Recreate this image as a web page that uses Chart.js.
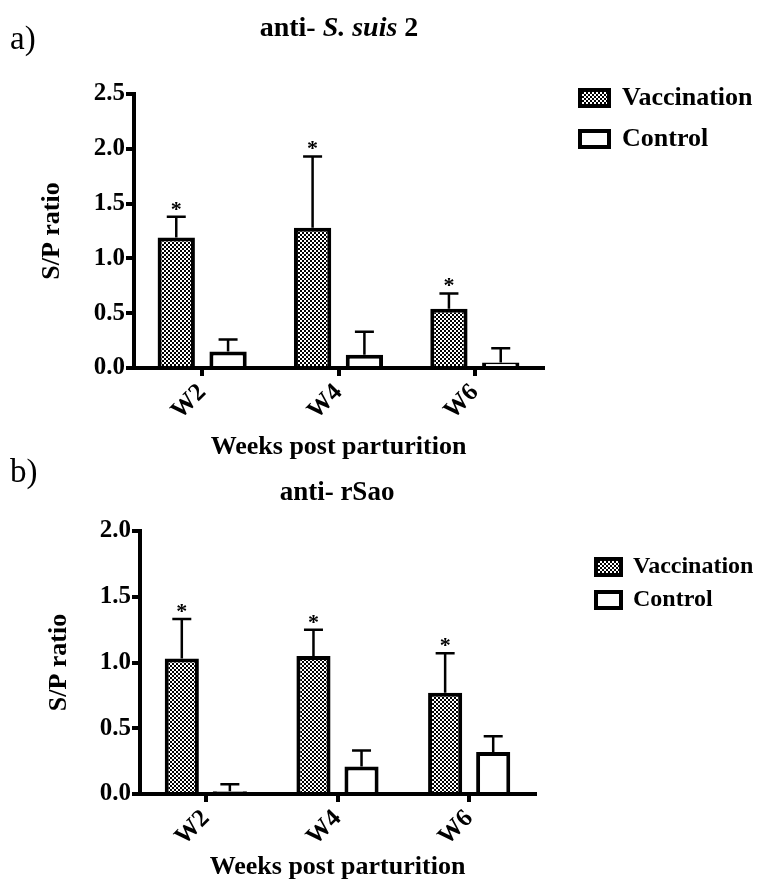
<!DOCTYPE html>
<html>
<head>
<meta charset="utf-8">
<script src="https://cdn.jsdelivr.net/npm/chart.js@4.4.1/dist/chart.umd.min.js"></script>
<style>
body{margin:0;background:#fff;width:769px;height:883px;position:relative;overflow:hidden;font-family:'Liberation Serif',serif;color:#000;}
.caja{position:absolute;left:0;width:769px;}
#cajaA{top:0;height:465px;}
#cajaB{top:465px;height:418px;}
.letra{position:absolute;font-size:33px;line-height:1;}
.titulo{position:absolute;font-weight:bold;line-height:1;transform:translate(-50%,-50%);white-space:nowrap;}
</style>
</head>
<body>
<div class="caja" id="cajaA"><canvas id="graficoA" width="769" height="465"></canvas></div>
<div class="caja" id="cajaB"><canvas id="graficoB" width="769" height="418"></canvas></div>
<div class="letra" style="left:10px;top:22px">a)</div>
<div class="titulo" style="left:339px;top:27px;font-size:28px">anti- <i>S. suis</i> 2</div>
<div class="letra" style="left:10px;top:455px">b)</div>
<div class="titulo" style="left:337px;top:491px;font-size:27px">anti- rSao</div>
<script>
// datos
const semanas = ['W2', 'W4', 'W6'];
const series = ['Vaccination', 'Control'];

// a) anti- S. suis 2
const vacunaA = [1.19, 1.28, 0.54];
const vacunaErrA = [0.19, 0.65, 0.14];
const controlA = [0.15, 0.12, 0.05];
const controlErrA = [0.11, 0.21, 0.13];
const asteriscoA = [true, true, true];
const ticksA = [0, 0.5, 1.0, 1.5, 2.0, 2.5];

// b) anti- rSao
const vacunaB = [1.03, 1.05, 0.77];
const vacunaErrB = [0.30, 0.20, 0.30];
const controlB = [0.02, 0.21, 0.32];
const controlErrB = [0.055, 0.12, 0.12];
const asteriscoB = [true, true, true];
const ticksB = [0, 0.5, 1.0, 1.5, 2.0];

const FUENTE = "'Liberation Serif', 'Times New Roman', serif";

// relleno de cuadritos para la vacunacion
function cuadritos(){
  const c = document.createElement('canvas');
  c.width = 4; c.height = 4;
  const g = c.getContext('2d');
  g.fillStyle = '#000';
  g.fillRect(0, 0, 4, 4);
  g.fillStyle = '#fff';
  g.fillRect(0, 0, 2, 2);
  g.fillRect(2, 2, 2, 2);
  return g.createPattern(c, 'repeat');
}

// barras de error hacia arriba y asteriscos
const barrasError = {
  id: 'barrasError',
  afterDatasetsDraw(chart, args, opts){
    const ctx = chart.ctx;
    const y = chart.scales.y;
    ctx.save();
    ctx.strokeStyle = '#000';
    ctx.fillStyle = '#000';
    ctx.lineWidth = 2.5;
    chart.data.datasets.forEach((ds, i) => {
      const meta = chart.getDatasetMeta(i);
      meta.data.forEach((bar, j) => {
        const arriba = y.getPixelForValue(ds.data[j] + ds.errores[j]);
        const media = opts.cap / 2;
        ctx.beginPath();
        ctx.moveTo(bar.x, bar.y);
        ctx.lineTo(bar.x, arriba);
        ctx.moveTo(bar.x - media, arriba);
        ctx.lineTo(bar.x + media, arriba);
        ctx.stroke();
        if (ds.asteriscos && ds.asteriscos[j]) {
          ctx.font = 'bold 22px ' + FUENTE;
          ctx.textAlign = 'center';
          ctx.textBaseline = 'alphabetic';
          ctx.fillText('*', bar.x, arriba - 1);
        }
      });
    });
    ctx.restore();
  }
};

// coloca la leyenda fuera del area del grafico
const moverLeyenda = {
  id: 'moverLeyenda',
  afterLayout(chart, args, opts){
    const lg = chart.legend;
    if (!lg) return;
    const w = lg.width, h = lg.height;
    lg.left = opts.x; lg.right = opts.x + w;
    lg.top = opts.y; lg.bottom = opts.y + h;
  }
};

function crear(id, c){
  const patron = cuadritos();
  new Chart(document.getElementById(id), {
    type: 'bar',
    data: {
      labels: semanas,
      datasets: [
        {
          label: series[0],
          data: c.vacuna,
          errores: c.vacunaErr,
          asteriscos: c.asterisco,
          backgroundColor: patron,
          borderColor: '#000',
          borderWidth: 4,
          categoryPercentage: c.cat,
          barPercentage: c.bar
        },
        {
          label: series[1],
          data: c.control,
          errores: c.controlErr,
          backgroundColor: '#fff',
          borderColor: '#000',
          borderWidth: 4,
          categoryPercentage: c.cat,
          barPercentage: c.bar
        }
      ]
    },
    options: {
      responsive: false,
      animation: false,
      layout: { padding: { top: c.arriba, right: c.derecha, bottom: 0, left: 0 } },
      plugins: {
        tooltip: { enabled: false },
        legend: {
          position: 'chartArea',
          align: 'start',
          labels: {
            color: '#000',
            font: { family: FUENTE, size: c.letraLeyenda, weight: 'bold' },
            boxWidth: c.cajaAncho,
            boxHeight: 16,
            padding: c.sepLeyenda
          }
        },
        moverLeyenda: c.leyenda,
        barrasError: { cap: c.cap }
      },
      scales: {
        x: {
          afterFit: s => { s.height = c.altoX; },
          border: { color: '#000', width: 4 },
          grid: { offset: false, drawOnChartArea: false, color: '#000', lineWidth: 4, tickLength: 8 },
          ticks: {
            color: '#000',
            font: { family: FUENTE, size: 25, weight: 'bold' },
            minRotation: 45, maxRotation: 45, autoSkip: false, padding: 2
          },
          title: {
            display: true,
            text: 'Weeks post parturition',
            color: '#000',
            font: { family: FUENTE, size: 26, weight: 'bold', lineHeight: 1.2 },
            padding: { top: 0, bottom: c.padTituloX }
          }
        },
        y: {
          min: 0,
          max: c.ticks[c.ticks.length - 1],
          afterFit: s => { s.width = c.anchoY; },
          afterBuildTicks: s => { s.ticks = c.ticks.map(v => ({ value: v })); },
          border: { color: '#000', width: 4 },
          grid: { drawOnChartArea: false, color: '#000', lineWidth: 4, tickLength: 8 },
          ticks: {
            color: '#000',
            font: { family: FUENTE, size: 25, weight: 'bold' },
            padding: 1,
            callback: v => Number(v).toFixed(1)
          },
          title: {
            display: true,
            text: 'S/P ratio',
            color: '#000',
            font: { family: FUENTE, size: 26, weight: 'bold', lineHeight: 1.2 },
            padding: { top: c.padTituloY, bottom: 0 }
          }
        }
      }
    },
    plugins: [barrasError, moverLeyenda]
  });
}

crear('graficoA', {
  vacuna: vacunaA, vacunaErr: vacunaErrA, control: controlA, controlErr: controlErrA,
  asterisco: asteriscoA, ticks: ticksA,
  cat: 0.76, bar: 0.72, cap: 19,
  arriba: 94, derecha: 226, altoX: 97, anchoY: 134,
  padTituloX: 2, padTituloY: 37,
  letraLeyenda: 26, cajaAncho: 29, sepLeyenda: 15,
  leyenda: { x: 565, y: 70 }
});

crear('graficoB', {
  vacuna: vacunaB, vacunaErr: vacunaErrB, control: controlB, controlErr: controlErrB,
  asterisco: asteriscoB, ticks: ticksB,
  cat: 0.73, bar: 0.71, cap: 19,
  arriba: 66, derecha: 234, altoX: 89, anchoY: 140,
  padTituloX: 0, padTituloY: 44,
  letraLeyenda: 24, cajaAncho: 25, sepLeyenda: 9,
  leyenda: { x: 587, y: 81 }
});
</script>
</body>
</html>
